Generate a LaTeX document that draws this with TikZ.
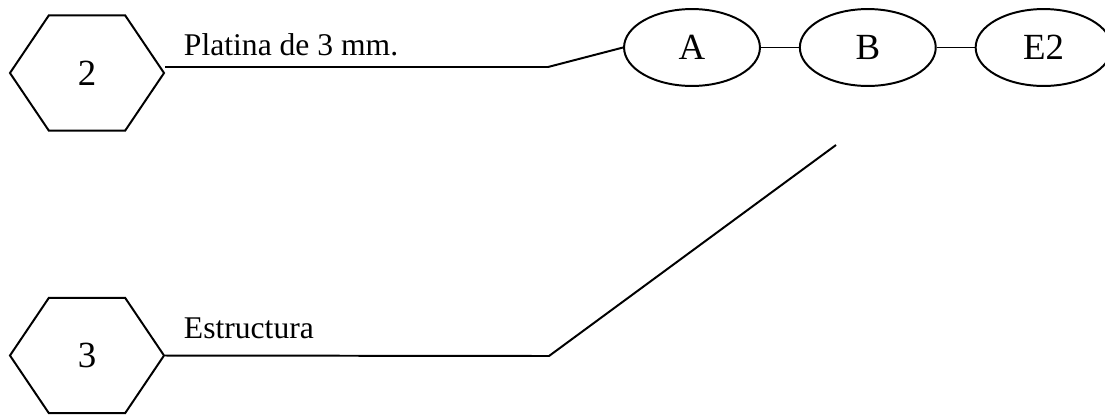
\documentclass[tikz,border=0pt]{standalone}
\usepackage{fontspec}
\setmainfont{Liberation Serif}
\usetikzlibrary{positioning,shapes.geometric,shapes.symbols}

\begin{document}
\begin{tikzpicture}[
        x=0.3797pt, y=-0.3797pt,
        line width=0.75pt,
        node distance=14.4pt,
        hexa/.style={draw, signal, signal to=west and east, signal pointer angle=112,
            minimum width=58.5pt, minimum height=43.7pt, inner sep=0pt,
            font=\fontsize{14}{17}\selectfont},
        pieza/.style={draw, ellipse, minimum width=51.6pt, minimum height=29.2pt,
            inner sep=0pt, font=\fontsize{14}{17}\selectfont},
        rotulo/.style={anchor=base west, inner sep=0pt, font=\fontsize{12}{14}\selectfont}
    ]
        \useasboundingbox (0,0) rectangle (1105,414);
        \node[hexa] (n2) at (87,73) {2};
        \node[hexa] (n3) at (87,355.5) {3};
        \node[rotulo] (platina) at (183,55) {Platina de 3 mm.};
        \node[rotulo] (estr) at (183,338) {Estructura};
        \node[pieza] (a) at (692,47.5) {A};
        \node[pieza] (b) [right=of a] {B};
        \node[pieza] (e2) [right=of b] {E2};
        \coordinate (c1) at (548,67);
        \coordinate (c2) at (549,356);
        \coordinate (c3) at (836,145);

        \draw (n2.east |- c1) -- (c1) -- (a.west);
        \draw (a) -- (b);
        \draw (b) -- (e2);
        \draw (n3.east) -- (c2) -- (c3);
\end{tikzpicture}
\end{document}
